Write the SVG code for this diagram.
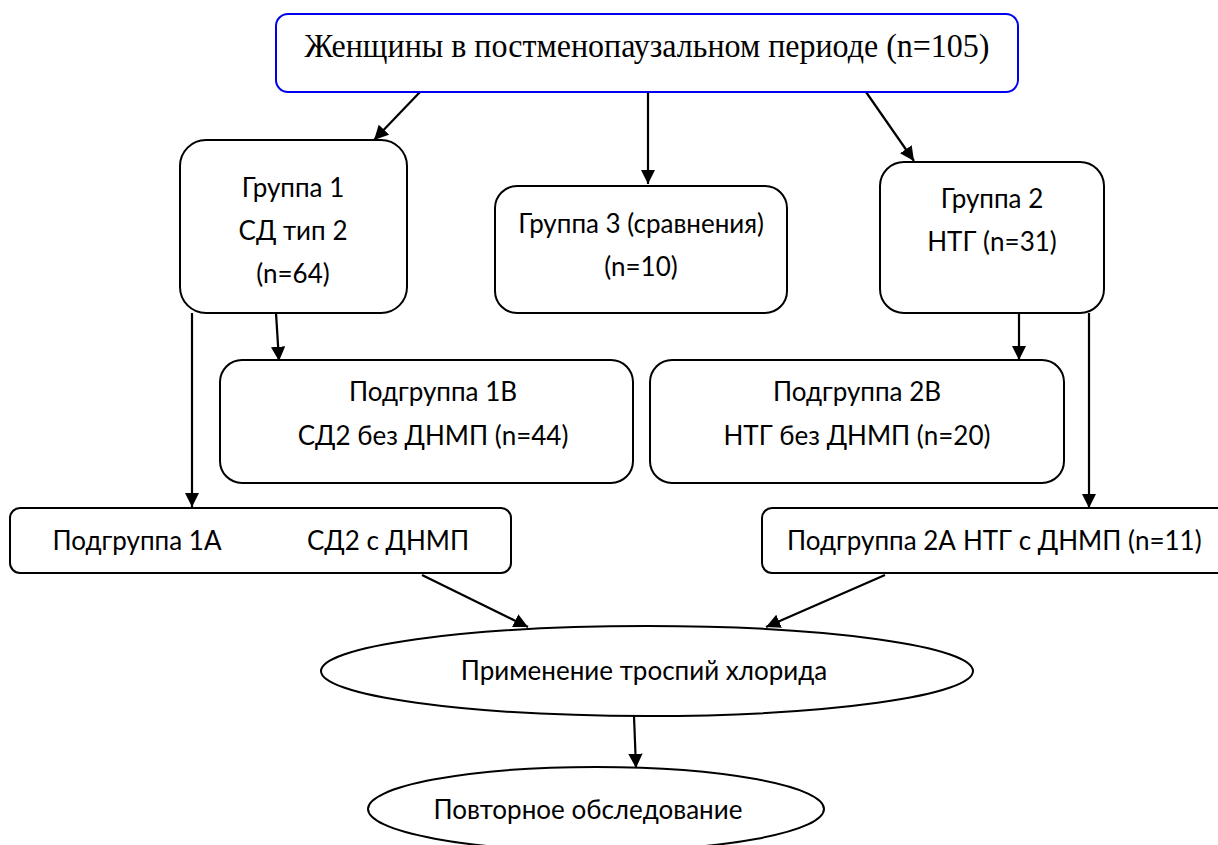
<svg xmlns="http://www.w3.org/2000/svg" width="1218" height="845" viewBox="0 0 1218 845">
<style>
.box{fill:#fff;stroke:#000;stroke-width:2}
.top{fill:#fff;stroke:#0000ee;stroke-width:2}
.t{font-family:Lato,"Liberation Sans",sans-serif;font-size:26px;fill:#000;text-anchor:middle}
.ts{font-family:"Liberation Serif",serif;font-size:33px;fill:#000;text-anchor:middle}
.c{stroke:#000;stroke-width:2.2;fill:none;marker-end:url(#ah)}
</style>
<defs>
<marker id="ah" viewBox="0 0 10 10" refX="10" refY="5" markerWidth="6.5" markerHeight="6.5" orient="auto" markerUnits="strokeWidth">
<path d="M0,0L10,5L0,10z" fill="#000"/>
</marker>
</defs>
<rect width="1218" height="845" fill="#fff"/>
<g id="connectors">
<line class="c" x1="420" y1="92" x2="374" y2="140"/>
<line class="c" x1="648" y1="92" x2="648" y2="184"/>
<line class="c" x1="866" y1="92" x2="914" y2="161"/>
<line class="c" x1="192" y1="313" x2="192" y2="507"/>
<line class="c" x1="276" y1="313" x2="279" y2="361"/>
<line class="c" x1="1019" y1="313" x2="1019" y2="360"/>
<line class="c" x1="1089" y1="313" x2="1089" y2="508"/>
<line class="c" x1="422" y1="575" x2="528" y2="627"/>
<line class="c" x1="885" y1="575" x2="766" y2="627"/>
<line class="c" x1="634" y1="716" x2="636" y2="768"/>
</g>
<g id="top">
<rect class="top" x="276" y="14" width="742" height="78" rx="12"/>
<text class="ts" x="647" y="57" textLength="685" lengthAdjust="spacingAndGlyphs">Женщины в постменопаузальном периоде (n=105)</text>
</g>
<g id="g1">
<rect class="box" x="180" y="140" width="227" height="173" rx="26"/>
<text class="t" x="293" y="197">Группа 1</text>
<text class="t" x="293" y="240">СД тип 2</text>
<text class="t" x="293" y="283">(n=64)</text>
</g>
<g id="g3">
<rect class="box" x="495" y="186" width="292" height="127" rx="22"/>
<text class="t" x="641" y="233">Группа 3 (сравнения)</text>
<text class="t" x="641" y="276">(n=10)</text>
</g>
<g id="g2">
<rect class="box" x="880" y="162" width="224" height="151" rx="24"/>
<text class="t" x="992" y="208">Группа 2</text>
<text class="t" x="992" y="251">НТГ (n=31)</text>
</g>
<g id="s1b">
<rect class="box" x="220" y="360" width="413" height="123" rx="22"/>
<text class="t" x="433" y="401">Подгруппа 1B</text>
<text class="t" x="433" y="445">СД2 без ДНМП (n=44)</text>
</g>
<g id="s2b">
<rect class="box" x="650" y="360" width="414" height="123" rx="22"/>
<text class="t" x="857" y="401">Подгруппа 2B</text>
<text class="t" x="857" y="445">НТГ без ДНМП (n=20)</text>
</g>
<g id="s1a">
<rect class="box" x="10" y="508" width="501" height="65" rx="10"/>
<text class="t" x="137" y="550">Подгруппа 1А</text>
<text class="t" x="388" y="550">СД2 с ДНМП</text>
</g>
<g id="s2a">
<rect class="box" x="762" y="508" width="470" height="65" rx="10"/>
<text class="t" x="787" y="550" style="text-anchor:start">Подгруппа 2А<tspan dx="7">НТГ с ДНМП (n=11)</tspan></text>
</g>
<g id="e1">
<ellipse class="box" cx="647" cy="671" rx="326" ry="45"/>
<text class="t" x="644" y="680">Применение троспий хлорида</text>
</g>
<g id="e2">
<ellipse class="box" cx="596" cy="809" rx="228" ry="42"/>
<text class="t" x="588" y="819">Повторное обследование</text>
</g>
</svg>
